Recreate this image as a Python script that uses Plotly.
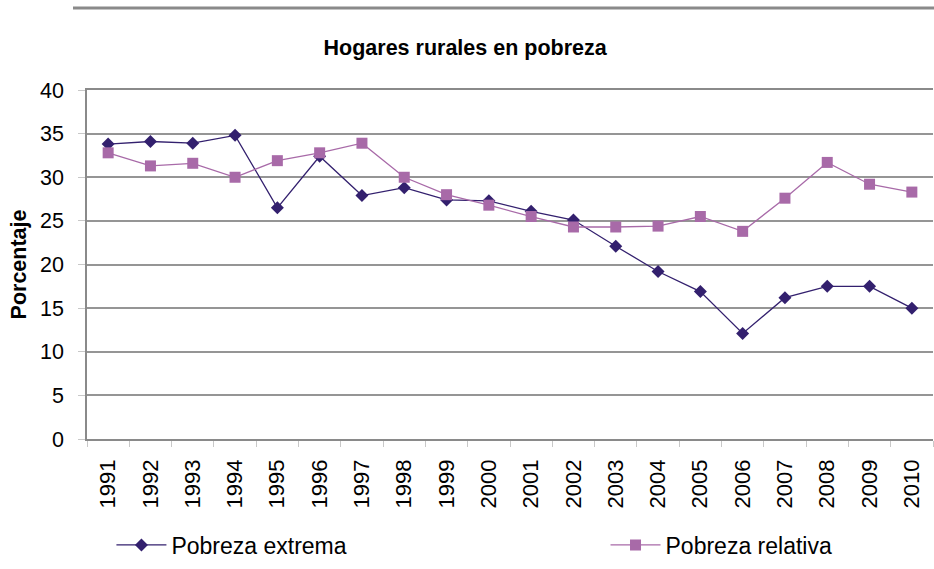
import plotly.graph_objects as go

years = [str(y) for y in range(1991, 2011)]
pobreza_extrema = [33.8, 34.1, 33.9, 34.8, 26.5, 32.4, 27.9, 28.8, 27.4, 27.3,
                   26.1, 25.1, 22.1, 19.2, 16.9, 12.1, 16.2, 17.5, 17.5, 15.0]
pobreza_relativa = [32.8, 31.3, 31.6, 30.0, 31.9, 32.8, 33.9, 30.0, 28.0, 26.8,
                    25.5, 24.3, 24.3, 24.4, 25.5, 23.8, 27.6, 31.7, 29.2, 28.3]
y_ticks = [0, 5, 10, 15, 20, 25, 30, 35, 40]

FONT = "Liberation Sans, Arial, sans-serif"
C_EXT = "#33206E"
C_REL = "#A86AA8"

fig = go.Figure()
fig.add_trace(go.Scatter(
    x=years, y=pobreza_extrema, name="Pobreza extrema", mode="lines+markers",
    line=dict(color=C_EXT, width=1.3),
    marker=dict(symbol="diamond", size=10, color=C_EXT),
    legend="legend", showlegend=True,
))
fig.add_trace(go.Scatter(
    x=years, y=pobreza_relativa, name="Pobreza relativa", mode="lines+markers",
    line=dict(color=C_REL, width=1.3),
    marker=dict(symbol="square", size=11, color=C_REL),
    legend="legend2", showlegend=True,
))

fig.update_layout(
    width=934, height=569,
    showlegend=True,
    margin=dict(l=87, r=1, t=90, b=130, autoexpand=False),
    paper_bgcolor="white", plot_bgcolor="white",
    font=dict(family=FONT, color="black", size=21),
    title=dict(text="<b>Hogares rurales en pobreza</b>", x=0.498, xref="container",
               xanchor="center", y=1 - 47 / 569, yref="container", yanchor="middle",
               font=dict(size=21.5, family=FONT, color="black"), automargin=False),
    legend=dict(orientation="h", x=0.1193, xref="container", xanchor="left",
                y=1 - 545 / 569, yref="container", yanchor="middle",
                font=dict(size=23, family=FONT), itemwidth=50, visible=True,
                bgcolor="rgba(0,0,0,0)"),
    legend2=dict(orientation="h", x=0.6483, xref="container", xanchor="left",
                 y=1 - 545 / 569, yref="container", yanchor="middle",
                 font=dict(size=23, family=FONT), itemwidth=50, visible=True,
                 bgcolor="rgba(0,0,0,0)"),
    xaxis=dict(type="category", tickangle=-90, tickson="boundaries",
               ticks="outside", ticklen=6, tickcolor="#c8c8c8",
               showline=True, linecolor="#8a8a8a", linewidth=1.5, mirror=True,
               showgrid=False, tickfont=dict(size=22, family=FONT),
               ticklabelstandoff=10,
               range=[-0.5, 19.5], automargin=False),
    yaxis=dict(range=[0, 40], tickvals=y_ticks, ticks="outside", ticklen=7,
               tickcolor="#c8c8c8", showline=True, linecolor="#8a8a8a", linewidth=1.5,
               showgrid=True, gridcolor="#959595", gridwidth=2, zeroline=False,
               tickfont=dict(size=21.5, family=FONT), automargin=False,
               ticklabelstandoff=10,
               title=dict(text="<b>Porcentaje</b>", font=dict(size=21.5, family=FONT),
                          standoff=8)),
    shapes=[dict(type="line", xref="paper", yref="paper",
                 x0=(73 - 87) / 846, x1=1.01, y0=(439 - 8) / 349, y1=(439 - 8) / 349,
                 line=dict(color="#8a8a8a", width=3))],
)

fig.write_html("out.html",
               config={"displayModeBar": False},
               post_script="document.body.style.margin='0';document.body.style.overflow='hidden';")
